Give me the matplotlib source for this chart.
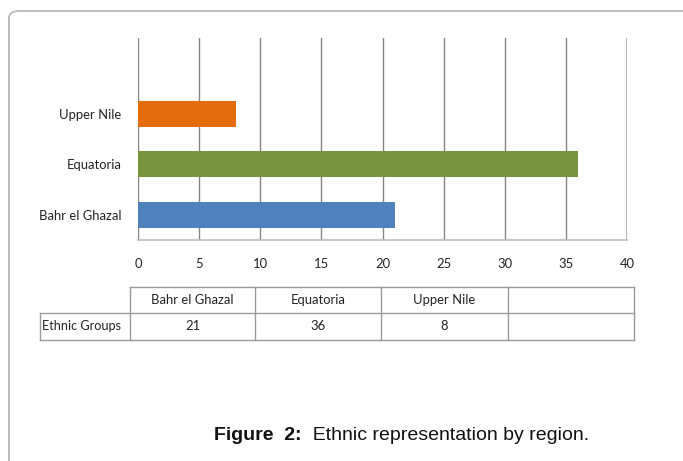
import matplotlib
matplotlib.use("Agg")
import matplotlib.pyplot as plt
from matplotlib.patches import FancyBboxPatch
from matplotlib.lines import Line2D

categories = ["Bahr el Ghazal", "Equatoria", "Upper Nile"]
values = [21, 36, 8]
colors = ["#4f81bd", "#77933c", "#e46c0a"]
x_ticks = [0, 5, 10, 15, 20, 25, 30, 35, 40]
row_label = "Ethnic Groups"
caption_bold = "Figure  2:"
caption_text = "  Ethnic representation by region."

W, H = 683, 461
fig = plt.figure(figsize=(W / 100, H / 100), dpi=100)
FONT = ["Lato", "DejaVu Sans"]
FS = 9.4

def fx(x):
    return x / W

def fy(y):
    return 1 - y / H

# outer frame with rounded top-left corner
frame = FancyBboxPatch((fx(9), fy(470)), fx(700), fy(11) - fy(470),
                       boxstyle="round,pad=0,rounding_size=0.015",
                       transform=fig.transFigure, fill=False,
                       edgecolor="#bdbdbd", linewidth=1.4, clip_on=False)
fig.patches.append(frame)

ax = fig.add_axes([fx(138), fy(240), fx(627) - fx(138), fy(38) - fy(240)])
y = list(range(len(categories)))
ax.barh(y, values, height=0.52, color=colors, zorder=3)
ax.set_xlim(0, 40)
ax.set_ylim(-0.5, 3.5)
ax.set_xticks(x_ticks)
ax.set_xticklabels([str(t) for t in x_ticks], fontsize=FS, family=FONT, color="#222222")
ax.set_yticks(y)
ax.set_yticklabels(categories, fontsize=FS, family=FONT, color="#222222")
ax.tick_params(axis="both", length=0)
ax.tick_params(axis="x", pad=13)
ax.tick_params(axis="y", pad=12)
for s in ["left", "top", "right"]:
    ax.spines[s].set_visible(False)
ax.spines["bottom"].set_color("#bfbfbf")
ax.spines["bottom"].set_linewidth(1.2)
for t in x_ticks:
    c = "#b5b5b5" if t == 40 else "#868686"
    ax.axvline(t, color=c, linewidth=1.0 if t != 40 else 1.4, zorder=1)
ax.patch.set_alpha(0)

# data table below the chart
tcol = "#9a9a9a"
col_edges = [130, 255, 381, 508, 634]
label_left = 40
r0, r1, r2 = 287, 313, 340
def hline(x0, x1, yy):
    fig.add_artist(Line2D([fx(x0), fx(x1)], [fy(yy), fy(yy)], color=tcol, linewidth=1.0))
def vline(xx, y0, y1):
    fig.add_artist(Line2D([fx(xx), fx(xx)], [fy(y0), fy(y1)], color=tcol, linewidth=1.0))
hline(col_edges[0], col_edges[-1], r0)
hline(label_left, col_edges[-1], r1)
hline(label_left, col_edges[-1], r2)
vline(label_left, r1, r2)
for xe in col_edges:
    vline(xe, r0, r2)
for i, cat in enumerate(categories):
    xc = (col_edges[i] + col_edges[i + 1]) / 2
    fig.text(fx(xc), fy((r0 + r1) / 2), cat, ha="center", va="center", fontsize=FS, family=FONT, color="#222222")
    fig.text(fx(xc), fy((r1 + r2) / 2), str(values[i]), ha="center", va="center", fontsize=FS, family=FONT, color="#222222")
fig.text(fx(label_left + 2), fy((r1 + r2) / 2), row_label, ha="left", va="center", fontsize=FS - 0.3, family=FONT, color="#222222")

# caption
CFS = 14
t1 = fig.text(fx(399), fy(435), caption_bold + caption_text, ha="center", va="center",
              fontsize=CFS, family=["Liberation Sans"], color="white")
fig.canvas.draw()
bb = t1.get_window_extent()
t1.set_visible(False)
xstart = bb.x0
tb = fig.text(xstart / W, fy(435), caption_bold, ha="left", va="center", fontsize=CFS,
              family=["Liberation Sans"], weight="bold", color="#111111")
fig.canvas.draw()
bb2 = tb.get_window_extent()
fig.text(bb2.x1 / W, fy(435), caption_text, ha="left", va="center", fontsize=CFS,
         family=["Liberation Sans"], color="#111111")

fig.savefig("out.png", dpi=100)
